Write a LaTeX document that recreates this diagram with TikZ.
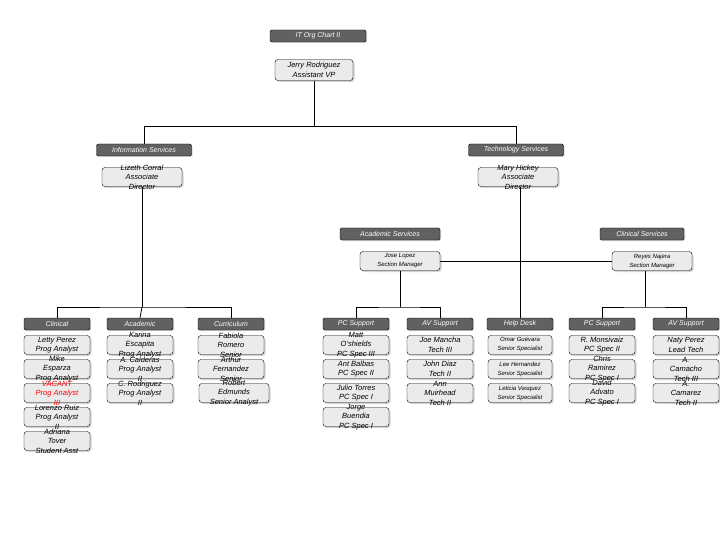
\documentclass[tikz,border=0pt]{standalone}
\usepackage{fontspec}
\setmainfont{Liberation Sans}
\usetikzlibrary{shadows}
\begin{document}
\begin{tikzpicture}[x=1pt,y=-1pt,
  hdr/.style={draw=black,fill=black!62,rounded corners=1.5pt,minimum width=#1,minimum height=12pt,inner sep=0pt,text=white,font=\fontsize{7}{8}\selectfont\itshape,drop shadow={shadow xshift=1pt,shadow yshift=-1pt,opacity=0.3}},
  hdr/.default=66pt,
  box/.style={draw=black,fill=black!8,rounded corners=3pt,minimum width=#1,minimum height=19pt,inner sep=0pt,drop shadow={shadow xshift=1.5pt,shadow yshift=-1.5pt,opacity=0.35}},
  box/.default=66pt,
  txt/.style={align=center,inner sep=0pt,font=\fontsize{7.5}{9.5}\selectfont\itshape},
  stxt/.style={align=center,inner sep=0pt,font=\fontsize{6}{9}\selectfont\itshape},
  ln/.style={draw=black,line width=0.8pt}]
\useasboundingbox (0,0) rectangle (720,540);
\newcommand\staff[5][txt]{\node[box] (#2) at (#3) {};\node[#1] (#2t) at (#2) {#4};}
\newcommand\staffw[5][stxt]{\node[box=64pt] (#2) at (#3) {};\node[#1] (#2t) at (#2) {#4};}
% top
\node[hdr=96pt] (title) at (318,36) {IT Org Chart II};
\node[box=78pt,minimum height=21pt] (jerry) at (314,70) {};
\node[txt] (jerryt) at (jerry) {Jerry Rodriguez\\Assistant VP};
\node[hdr=95pt] (info) at (144,150) {Information Services};
\node[hdr=95pt] (tech) at (516,150) {Technology Services};
\coordinate (j1) at (314,126);
\draw[ln] (jerry.south) -- (j1) -| (info.north);
\draw[ln] (j1) -| (tech.north);
\node[box=80pt] (liz) at (142,177) {};
\node[txt] (lizt) at (liz) {Lizeth Corral\\Associate\\Director};
\node[box=80pt] (mary) at (518,177) {};
\node[txt] (maryt) at (mary) {Mary Hickey\\Associate\\Director};
\node[hdr=100pt] (acad) at (390,234) {Academic Services};
\node[hdr=84pt] (clin) at (642,234) {Clinical Services};
\node[box=80pt] (jose) at (400,261) {};
\node[stxt] (joset) at (jose) {Jose Lopez\\Section Manager};
\node[box=80pt] (reyes) at (652,261) {};
\node[stxt] (reyest) at (reyes) {Reyes Najera\\Section Manager};
\draw[ln] (jose.east) -- (reyes.west);
% column headers
\node[hdr] (c1) at (57,324) {Clinical};
\node[hdr] (c2) at (140,324) {Academic};
\node[hdr] (c3) at (231,324) {Curriculum};
\node[hdr] (c4) at (356,324) {PC Support};
\node[hdr] (c5) at (440,324) {AV Support};
\node[hdr] (c6) at (520,324) {Help Desk};
\node[hdr] (c7) at (602,324) {PC Support};
\node[hdr] (c8) at (686,324) {AV Support};
\coordinate (h1) at (142,307);
\draw[ln] (liz.south) -- (h1);
\draw[ln] (c1.north) |- (h1) -| (c3.north);
\draw[ln] (h1) -- (c2.north);
\coordinate (h2) at (400,307);
\draw[ln] (jose.south) -- (h2);
\draw[ln] (c4.north) |- (h2) -| (c5.north);
\draw[ln] (mary.south -| c6.north) -- (c6.north);
\coordinate (h3) at (645,307);
\draw[ln] (reyes.south -| h3) -- (h3);
\draw[ln] (c7.north) |- (h3) -| (c8.north);
% Clinical
\staff{a1}{57,345}{Letty Perez\\Prog Analyst}{}
\staff{a2}{57,369}{Mike\\Esparza\\Prog Analyst}{}
\node[box] (a3) at (57,393) {};\node[txt,text=red] (a3t) at (a3) {VACANT\\Prog Analyst\\III};
\staff{a4}{57,417}{Lorenzo Ruiz\\Prog Analyst\\II}{}
\staff{a5}{57,441}{Adriana\\Tover\\Student Asst}{}
% Academic
\staff{b1}{140,345}{Karina\\Escapita\\Prog Analyst}{}
\staff{b2}{140,369}{A. Calderas\\Prog Analyst\\II}{}
\staff{b3}{140,393}{C. Rodriguez\\Prog Analyst\\II}{}
% Curriculum
\staff{d1}{231,345}{Fabiola\\Romero\\Senior}{}
\staff{d2}{231,369}{Arthur\\Fernandez\\Senior}{}
\node[box=70pt] (d3) at (234,393) {};\node[txt] (d3t) at (d3) {Robert\\Edmunds\\Senior Analyst};
% PC Support
\staff{e1}{356,345}{Matt\\O'shields\\PC Spec III}{}
\staff{e2}{356,369}{Ant Balbas\\PC Spec II}{}
\staff{e3}{356,393}{Julio Torres\\PC Spec I}{}
\staff{e4}{356,417}{Jorge\\Buendia\\PC Spec I}{}
% AV Support
\staff{f1}{440,345}{Joe Mancha\\Tech III}{}
\staff{f2}{440,369}{John Diaz\\Tech II}{}
\staff{f3}{440,393}{Ann\\Muirhead\\Tech II}{}
% Help desk
\staffw{g1}{520,345}{Omar Guevara\\Senior Specialist}{}
\staffw{g2}{520,369}{Lee Hernandez\\Senior Specialist}{}
\staffw{g3}{520,393}{Leticia Vasquez\\Senior Specialist}{}
% PC Support 2
\staff{k1}{602,345}{R. Monsivaiz\\PC Spec II}{}
\staff{k2}{602,369}{Chris\\Ramirez\\PC Spec I}{}
\staff{k3}{602,393}{David\\Advato\\PC Spec I}{}
% AV Support 2
\staff{m1}{686,345}{Naty Perez\\Lead Tech}{}
\staff{m2}{686,369}{A.\\Camacho\\Tech III}{}
\staff{m3}{686,393}{A.\\Camarez\\Tech II}{}
\end{tikzpicture}
\end{document}
